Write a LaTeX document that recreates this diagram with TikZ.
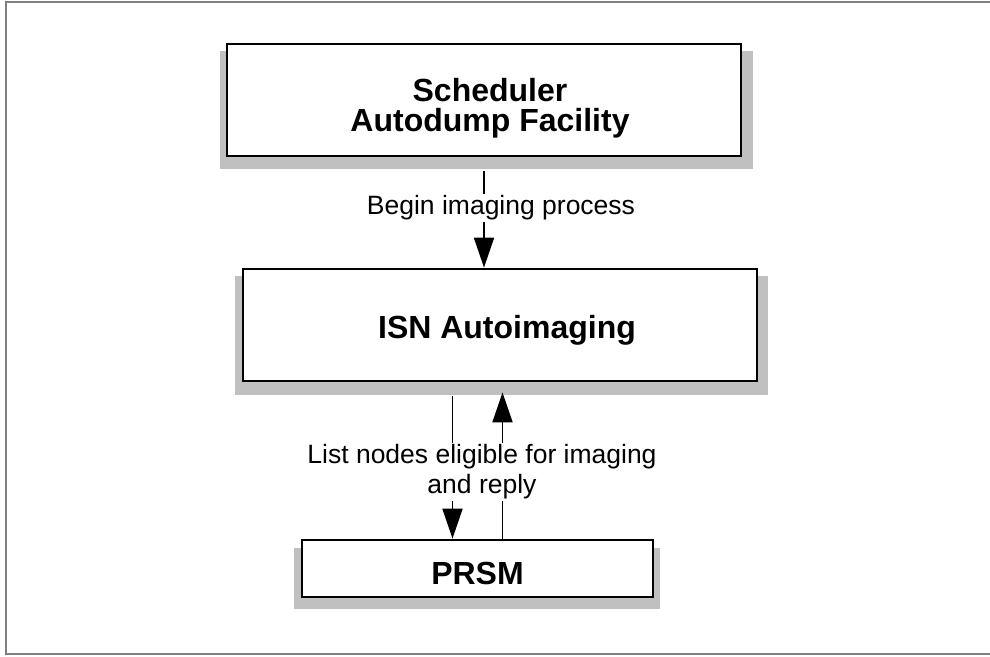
\documentclass[tikz,border=0pt]{standalone}
\usepackage{fontspec}
\setmainfont{Liberation Sans}
\usetikzlibrary{arrows.meta,backgrounds,calc}
\definecolor{shade}{HTML}{C0C0C0}
\definecolor{framegray}{HTML}{7F7F7F}
\begin{document}
\begin{tikzpicture}[x=1pt,y=-1pt,
  box/.style={draw=black, line width=2.8pt, fill=white, inner sep=0pt},
  title/.style={inner sep=0pt, font=\fontsize{32}{30}\selectfont\bfseries, align=center},
  lbl/.style={fill=white, inner sep=2pt, font=\fontsize{26.5}{30}\selectfont, align=center},
  conn/.style={line width=1.9pt, -{Triangle[length=30pt,width=20pt]}},
  shadowbox/.style={fill=shade}]
\useasboundingbox (0,0) rectangle (990,656);
\draw[framegray, line width=2pt] (6,2) rectangle (993,654);

\node[box, minimum width=514pt, minimum height=112pt] (sched) at (484,100) {};
\node[box, minimum width=514pt, minimum height=112pt] (isn) at (500,325) {};
\node[box, minimum width=351pt, minimum height=57pt] (prsm) at (477.5,568.5) {};

\node[title] (schedtxt) at ($(sched.center)+(6,8)$) {Scheduler\\Autodump Facility};
\node[title] (isntxt) at ($(isn.center)+(7,5)$) {ISN Autoimaging};
\node[title] (prsmtxt) at ($(prsm.center)+(0,5)$) {PRSM};

\begin{scope}[on background layer]
\fill[shadowbox] ($(sched.north west)+(-6,8)$) rectangle ($(sched.south east)+(11,12)$);
\fill[shadowbox] ($(isn.north west)+(-7,8)$) rectangle ($(isn.south east)+(10,13)$);
\fill[shadowbox] ($(prsm.north west)+(-7,9)$) rectangle ($(prsm.south east)+(6,11)$);
\end{scope}

\draw[conn] ($(sched.south)+(0,14)$) -- (sched.south |- isn.north);
\draw[conn] ($(prsm.north |- isn.south)+(-25,14)$) -- ($(prsm.north)+(-25,0)$);
\draw[conn] ($(prsm.north)+(25,0)$) -- ($(prsm.north |- isn.south)+(25,10)$);

\node[lbl] (beg) at (501,208) {Begin imaging process};
\node[lbl] (lst) at (482,472) {List nodes eligible for imaging\\and reply};
\end{tikzpicture}
\end{document}
